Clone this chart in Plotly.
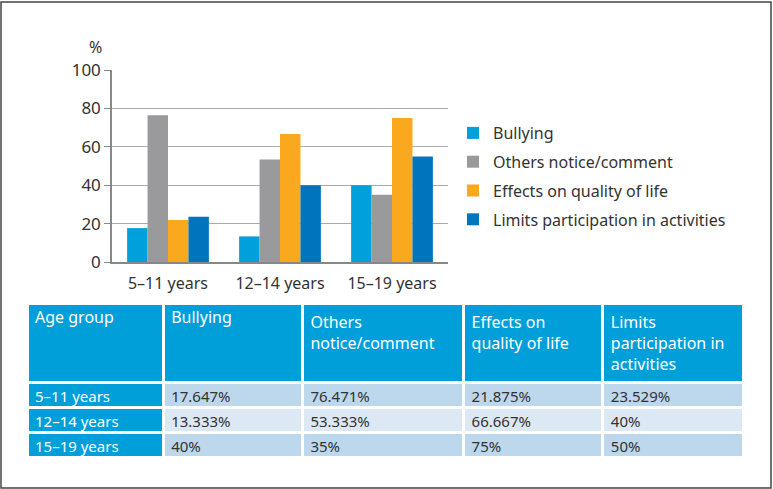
import plotly.graph_objects as go

categories = ["5–11 years", "12–14 years", "15–19 years"]
series_names = ["Bullying", "Others notice/comment", "Effects on quality of life", "Limits participation in activities"]
bullying = [17.647, 13.333, 40]
others = [76.471, 53.333, 35]
effects = [21.875, 66.667, 75]
limits = [23.529, 40, 55]
y_ticks = [0, 20, 40, 60, 80, 100]

table_header = ["Age group", "Bullying", "Others<br>notice/comment", "Effects on<br>quality of life", "Limits<br>participation in<br>activities"]
table_bullying = ["17.647%", "13.333%", "40%"]
table_others = ["76.471%", "53.333%", "35%"]
table_effects = ["21.875%", "66.667%", "75%"]
table_limits = ["23.529%", "40%", "50%"]

colors = ["#00A0DC", "#9A9A9C", "#FAA81E", "#0075BE"]
W, H = 773, 489
FONT = "Noto Sans"
TXT = "#333333"

fig = go.Figure()
for name, vals, col in zip(series_names, [bullying, others, effects, limits], colors):
    fig.add_trace(go.Bar(x=categories, y=vals, name=name, marker=dict(color=col, line=dict(width=0)),
                         legendgroup=name))

blue = "#009FDA"
light = "#BDD7EC"
lighter = "#DCE8F4"
fig.add_trace(go.Table(
    domain=dict(x=[27 / W, 743 / W], y=[(H - 456) / H, (H - 303) / H]),
    columnwidth=[136, 139, 161, 139, 140],
    header=dict(values=table_header, fill_color=blue, line=dict(color="white", width=3),
                font=dict(family=FONT, size=16, color="white"), align="left", height=74),
    cells=dict(values=[categories, table_bullying, table_others, table_effects, table_limits],
               fill_color=[[blue] * 3] + [[light, lighter, light]] * 4,
               line=dict(color="white", width=3),
               font=dict(family=FONT, size=15, color=[["white"] * 3] + [[TXT] * 3] * 4),
               align="left", height=25),
))

fig.update_layout(
    width=W, height=H, margin=dict(l=0, r=0, t=0, b=0, autoexpand=False),
    paper_bgcolor="white", plot_bgcolor="white",
    font=dict(family=FONT, size=16, color=TXT),
    barmode="group", bargap=0.27, bargroupgap=0,
    xaxis=dict(domain=[112 / W, 448 / W], showline=True, linecolor="#888888", linewidth=1.5,
               ticks="", ticklabelstandoff=6, tickfont=dict(size=16, color=TXT)),
    yaxis=dict(domain=[(H - 262) / H, (H - 70) / H], range=[0, 100], tickvals=y_ticks,
               showgrid=True, gridcolor="#AAAAAA", gridwidth=1.2, showline=True,
               linecolor="#888888", linewidth=1.5, ticks="outside", ticklen=6, tickcolor="#888888",
               tickfont=dict(size=17, color=TXT), zeroline=False),
    legend=dict(x=453 / W, y=(H - 116) / H, xanchor="left", yanchor="top",
                font=dict(family=FONT, size=16, color=TXT), tracegroupgap=5,
                traceorder="grouped", itemwidth=30, bgcolor="rgba(0,0,0,0)"),
    showlegend=True,
)
fig.add_annotation(x=95 / W, y=(H - 47) / H, xref="paper", yref="paper", text="%", showarrow=False,
                   xanchor="center", yanchor="middle", font=dict(size=16, color=TXT))
fig.add_shape(type="rect", xref="paper", yref="paper", x0=1 / W, y0=1 / H, x1=(W - 2) / W, y1=(H - 2) / H,
              line=dict(color="#444444", width=1.5))

post = ("document.documentElement.style.overflow='hidden';"
        "document.body.style.margin='0';document.body.style.overflow='hidden';")
fig.write_html("out.html", config={"displayModeBar": False}, post_script=post)
